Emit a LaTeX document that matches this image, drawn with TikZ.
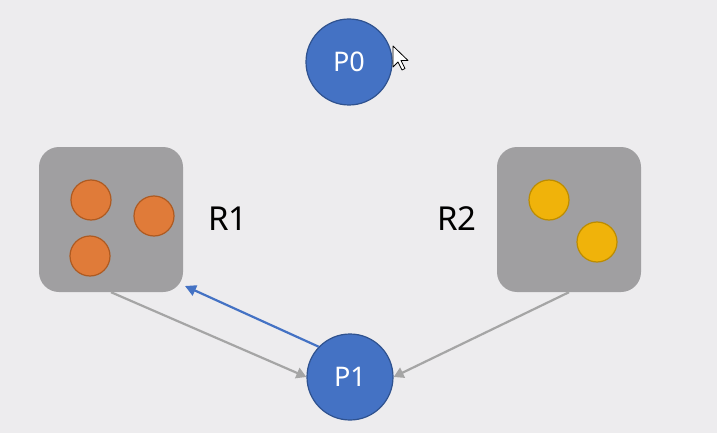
\documentclass[tikz,border=0pt]{standalone}
\usepackage{fontspec}
\setmainfont{Noto Sans}
\usetikzlibrary{arrows.meta}
\definecolor{bgcol}{HTML}{EDECEE}
\definecolor{procblue}{HTML}{4472C4}
\definecolor{procedge}{HTML}{2F528F}
\definecolor{boxgray}{HTML}{A09FA1}
\definecolor{arrgray}{HTML}{A5A5A5}
\definecolor{resorange}{HTML}{E07B39}
\definecolor{orangeedge}{HTML}{AE5A21}
\definecolor{resyellow}{HTML}{F0B30A}
\definecolor{yellowedge}{HTML}{BC8C00}
\tikzset{
  proc/.style={circle, fill=procblue, draw=procedge, line width=1.2pt,
    minimum size=86pt, inner sep=0pt, text=white, font=\fontsize{27}{30}\selectfont},
  resbox/.style={fill=boxgray, rounded corners=20pt, minimum width=144pt,
    minimum height=145pt, inner sep=0pt},
  orangedot/.style={circle, fill=resorange, draw=orangeedge, line width=1.2pt,
    minimum size=40pt, inner sep=0pt},
  yellowdot/.style={circle, fill=resyellow, draw=yellowedge, line width=1.2pt,
    minimum size=40pt, inner sep=0pt},
  reslabel/.style={font=\fontsize{33}{36}\selectfont},
  grayarrow/.style={draw=arrgray, line width=2.2pt,
    -{Triangle[width=11pt, length=10pt]}},
  bluearrow/.style={draw=procblue, line width=2.2pt,
    -{Triangle[width=11pt, length=11pt]}}
}
\begin{document}
\begin{tikzpicture}[x=1pt, y=-1pt]
  %%%%% START %%%%%
  \fill[bgcol] (0,0) rectangle (717,433);
  \useasboundingbox (0,0) rectangle (717,433);

  % processes
  \node[proc] (P0) at (349, 62) {P0};
  \node[proc] (P1) at (350, 377) {P1};

  % resources
  \node[resbox] (R1box) at (111, 219.5) {};
  \node[orangedot] (o1) at (91, 200) {};
  \node[orangedot] (o2) at (154, 216) {};
  \node[orangedot] (o3) at (90, 256) {};
  \node[reslabel] (R1) at (228, 219) {R1};

  \node[resbox] (R2box) at (569, 219.5) {};
  \node[yellowdot] (y1) at (549, 200) {};
  \node[yellowdot] (y2) at (597, 242) {};
  \node[reslabel] (R2) at (457, 219) {R2};

  % edges
  \coordinate (R1tip) at (185, 286);
  \draw[grayarrow] (R1box.south) -- (P1.west);
  \draw[grayarrow] (R2box.south) -- (P1.east);
  \draw[bluearrow] (P1.136) -- (R1tip);

  % mouse pointer
  \draw[fill=white, line width=0.8pt, line join=round]
    (393,46) -- (393,67) -- (398,62) -- (402,70) -- (405,68.5)
    -- (401,60.5) -- (408,60.5) -- cycle;
  %%%%% END %%%%%
\end{tikzpicture}
\end{document}
